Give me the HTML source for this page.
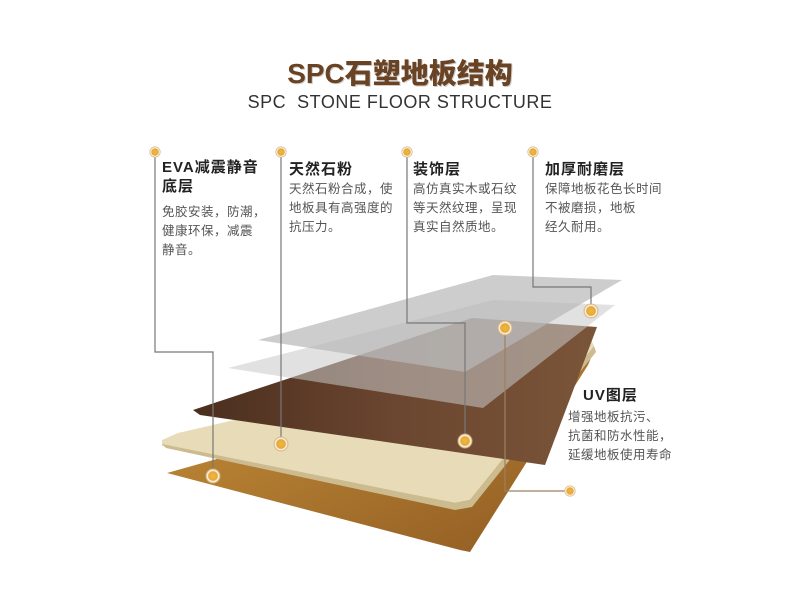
<!DOCTYPE html>
<html><head><meta charset="utf-8"><style>
body{margin:0;width:800px;height:616px;background:#fff;overflow:hidden;position:relative;font-family:"Liberation Sans","Noto Sans CJK SC",sans-serif}
.t{position:absolute;white-space:nowrap}
.h{font-weight:bold;font-size:15px;color:#222;letter-spacing:1px}
.b{font-size:12.5px;color:#555;line-height:19px;letter-spacing:.5px}
</style></head><body>
<svg width="800" height="616" style="position:absolute;left:0;top:0">
<defs>
<linearGradient id="gold" x1="0" y1="0" x2="1" y2="1"><stop offset="0" stop-color="#c8913a"/><stop offset="1" stop-color="#8e5a22"/></linearGradient>
<linearGradient id="wood" x1="0" y1="0" x2="1" y2="0"><stop offset="0" stop-color="#4a2e1e"/><stop offset=".5" stop-color="#6b4630"/><stop offset="1" stop-color="#7a5538"/></linearGradient>
<radialGradient id="dot"><stop offset="0" stop-color="#f0b640"/><stop offset=".55" stop-color="#e6a93a"/><stop offset=".7" stop-color="#fff"/><stop offset=".85" stop-color="#d9b680"/><stop offset="1" stop-color="#d9b680" stop-opacity="0"/></radialGradient>
</defs>
<polygon points="167,473 593,353 588,365 470,552 460,550" fill="url(#gold)"/>
<polygon points="162,440 178,433 590,338 594,346 470,500 455,503 162,446" fill="#e8dcb8"/>
<polygon points="162,444 455,503 470,500 594,346 596,352 472,507 455,510 166,448" fill="#cdbb90"/>
<polygon points="193,410 472,318 597,327 545,465 200,415" fill="url(#wood)"/>
<polygon points="228,368 493,300 615,305 483,408" fill="#c8c8c8" opacity=".55"/>
<polygon points="258,340 493,275 622,280 465,372" fill="#b8b8b8" opacity=".7"/>
<g fill="none" stroke="#777" stroke-width="1.2">
<polyline points="155,152 155,352 213,352 213,476"/>
<polyline points="281,152 281,444"/>
<polyline points="407,152 407,323 465,323 465,441"/>
<polyline points="533,152 533,287 591,287 591,311"/>
<polyline points="505,328 505,491 570,491" stroke="#9a8060"/>
</g>
<g fill="url(#dot)">
<circle cx="155" cy="152" r="6"/><circle cx="281" cy="152" r="6"/><circle cx="407" cy="152" r="6"/><circle cx="533" cy="152" r="6"/>
<circle cx="213" cy="476" r="8"/><circle cx="281" cy="444" r="8"/><circle cx="465" cy="441" r="8"/><circle cx="591" cy="311" r="8"/><circle cx="505" cy="328" r="8"/><circle cx="570" cy="491" r="6"/>
</g>
</svg>
<div class="t" style="left:0;width:800px;text-align:center;top:52px;font-size:28px;font-weight:900;color:#6a4324;text-shadow:1px 1px 0 #ccc">SPC石塑地板结构</div>
<div class="t" style="left:0;width:800px;text-align:center;top:92px;font-size:18px;color:#333;letter-spacing:.5px">SPC&nbsp; STONE FLOOR STRUCTURE</div>
<div class="t h" style="left:162px;top:158px;line-height:19px">EVA减震静音<br>底层</div>
<div class="t b" style="left:162px;top:203px">免胶安装，防潮，<br>健康环保，减震<br>静音。</div>
<div class="t h" style="left:289px;top:158px">天然石粉</div>
<div class="t b" style="left:289px;top:180px">天然石粉合成，使<br>地板具有高强度的<br>抗压力。</div>
<div class="t h" style="left:413px;top:158px">装饰层</div>
<div class="t b" style="left:413px;top:180px">高仿真实木或石纹<br>等天然纹理，呈现<br>真实自然质地。</div>
<div class="t h" style="left:545px;top:158px">加厚耐磨层</div>
<div class="t b" style="left:545px;top:180px">保障地板花色长时间<br>不被磨损，地板<br>经久耐用。</div>
<div class="t h" style="left:583px;top:384px">UV图层</div>
<div class="t b" style="left:568px;top:408px">增强地板抗污、<br>抗菌和防水性能，<br>延缓地板使用寿命</div>
</body></html>
